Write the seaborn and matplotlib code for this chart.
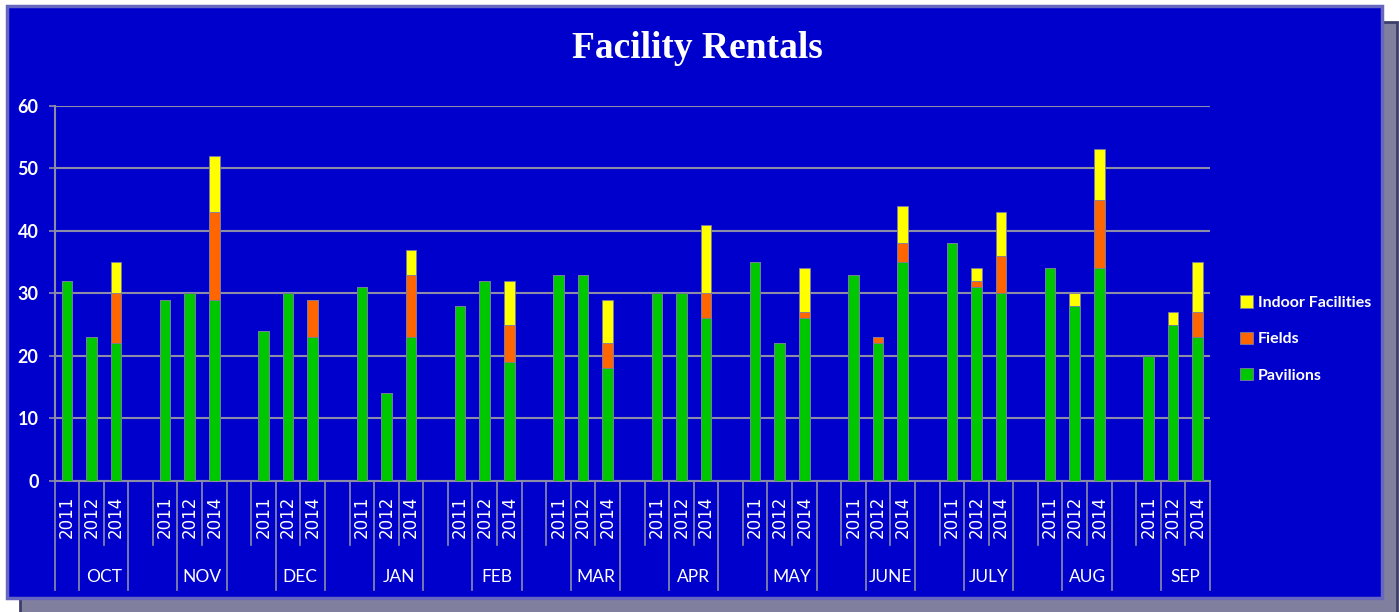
import matplotlib
matplotlib.use("Agg")
import matplotlib.pyplot as plt
from matplotlib.patches import Rectangle, Patch
from matplotlib.transforms import blended_transform_factory
import seaborn as sns
import pandas as pd

# ---- data ----
months = ["OCT", "NOV", "DEC", "JAN", "FEB", "MAR", "APR", "MAY", "JUNE", "JULY", "AUG", "SEP"]
years = ["2011", "2012", "2014"]
pavilions = [32, 23, 22, 29, 30, 29, 24, 30, 23, 31, 14, 23, 28, 32, 19, 33, 33, 18,
             30, 30, 26, 35, 22, 26, 33, 22, 35, 38, 31, 30, 34, 28, 34, 20, 25, 23]
fields = [0, 0, 8, 0, 0, 14, 0, 0, 6, 0, 0, 10, 0, 0, 6, 0, 0, 4,
          0, 0, 4, 0, 0, 1, 0, 1, 3, 0, 1, 6, 0, 0, 11, 0, 0, 4]
indoor = [0, 0, 5, 0, 0, 9, 0, 0, 0, 0, 0, 4, 0, 0, 7, 0, 0, 7,
          0, 0, 11, 0, 0, 7, 0, 0, 6, 0, 2, 7, 0, 2, 8, 0, 2, 8]
series_names = ["Pavilions", "Fields", "Indoor Facilities"]
colors = {"Pavilions": "#00C800", "Fields": "#FF6600", "Indoor Facilities": "#FFFF00"}

# ---- build table ----
rows = []
order = []
for mi, m in enumerate(months):
    for yi, y in enumerate(years):
        k = mi * 3 + yi
        key = f"{m}-{y}"
        order.append(key)
        rows.append({"key": key, "month": m, "year": y,
                     "Pavilions": pavilions[k], "Fields": fields[k],
                     "Indoor Facilities": indoor[k]})
    if mi < len(months) - 1:
        order.append(f"gap{mi}")
df = pd.DataFrame(rows)
df["lvl_pf"] = df["Pavilions"] + df["Fields"]
df["lvl_all"] = df["lvl_pf"] + df["Indoor Facilities"]

W, H = 1399, 612
fig = plt.figure(figsize=(W / 100, H / 100), dpi=100)
fig.patch.set_facecolor("white")

def fr(x0, y0, x1, y1):
    return (x0 / W, 1 - y1 / H), (x1 - x0) / W, (y1 - y0) / H

xy, w, h = fr(20, 22, 1397, 613)
fig.patches.append(Rectangle(xy, w, h, transform=fig.transFigure, facecolor="#80809E",
                             edgecolor="#3d3d6b", linewidth=2.0, zorder=-10))
xy, w, h = fr(7, 6, 1382, 598)
fig.patches.append(Rectangle(xy, w, h, transform=fig.transFigure, facecolor="#0000CC",
                             edgecolor="#6767BF", linewidth=2.5, zorder=-9))

ax = fig.add_axes([54.5 / W, 1 - 481 / H, (1210 - 54.5) / W, (481 - 105.7) / H])
ax.patch.set_visible(False)
ax.set_zorder(2)

edge = "#7a7aa8"
sns.barplot(data=df, x="key", y="lvl_all", order=order, color=colors["Indoor Facilities"],
            saturation=1, width=0.43, errorbar=None, ax=ax, edgecolor=edge, linewidth=0.6, zorder=3)
sns.barplot(data=df, x="key", y="lvl_pf", order=order, color=colors["Fields"],
            saturation=1, width=0.43, errorbar=None, ax=ax, edgecolor=edge, linewidth=0.6, zorder=3)
sns.barplot(data=df, x="key", y="Pavilions", order=order, color=colors["Pavilions"],
            saturation=1, width=0.43, errorbar=None, ax=ax, edgecolor=edge, linewidth=0.6, zorder=3)

grey = "#8C8CA8"
ax.set_xlim(-0.5, len(order) - 0.5)
ax.set_ylim(0, 60)
ax.set_yticks(range(0, 61, 10))
ax.yaxis.grid(True, color=grey, linewidth=1.5)
ax.set_axisbelow(True)
ax.set_xticks([])
ax.set_xlabel("")
ax.set_ylabel("")
for s in ["top", "right"]:
    ax.spines[s].set_visible(False)
for s in ["left", "bottom"]:
    ax.spines[s].set_color(grey)
    ax.spines[s].set_linewidth(1.5)
ax.tick_params(axis="y", colors=grey, length=4.5, width=1.2, pad=7,
               labelcolor="white", labelsize=13)
for lab in ax.get_yticklabels():
    lab.set_fontfamily("Lato")
    lab.set_fontweight("bold")

# ---- multi-level category axis ----
tr = blended_transform_factory(ax.transData, ax.transAxes)
short_y = -(545 - 481) / 375.3
long_y = -(590 - 481) / 375.3
pos = {k: i for i, k in enumerate(order)}
long_lines = [-0.5]
short_lines = []
for mi in range(len(months)):
    base = mi * 4
    long_lines += [base + 0.5, base + 2.5]
    if mi < len(months) - 1:
        short_lines += [base + 1.5, base + 3.5]
    else:
        short_lines += [base + 1.5]
for xv in long_lines:
    ax.plot([xv, xv], [0, long_y], transform=tr, color=grey, lw=1.2, clip_on=False)
for xv in short_lines:
    ax.plot([xv, xv], [0, short_y], transform=tr, color=grey, lw=1.2, clip_on=False)

year_y = -(517 - 481) / 375.3
month_y = -(577 - 481) / 375.3
for _, r in df.iterrows():
    ax.text(pos[r["key"]], year_y, r["year"], transform=tr, rotation=90, ha="center",
            va="center", color="white", fontsize=12, family="DejaVu Sans")
for m in months:
    cx = (pos[f"{m}-2012"] + pos[f"{m}-2014"]) / 2
    ax.text(cx, month_y, m, transform=tr, ha="center", va="center", color="white",
            fontsize=12.5, family="Lato")

# ---- title ----
fig.text(697 / W, 1 - 48 / H, "Facility Rentals", ha="center", va="center", color="white",
         fontsize=27, family="Liberation Serif", fontweight="bold")

# ---- legend ----
handles = [Patch(facecolor=colors[nm], edgecolor=edge, linewidth=0.6, label=nm)
           for nm in reversed(series_names)]
leg = fig.legend(handles=handles, loc="center left", bbox_to_anchor=(1234 / W, 1 - 339 / H),
                 frameon=False, handlelength=0.8, handleheight=0.8, handletextpad=0.3,
                 labelspacing=1.35, borderaxespad=0,
                 prop={"family": "Lato", "weight": "bold", "size": 11.5})
for t in leg.get_texts():
    t.set_color("white")

fig.savefig("out.png", dpi=100, facecolor=fig.get_facecolor())
